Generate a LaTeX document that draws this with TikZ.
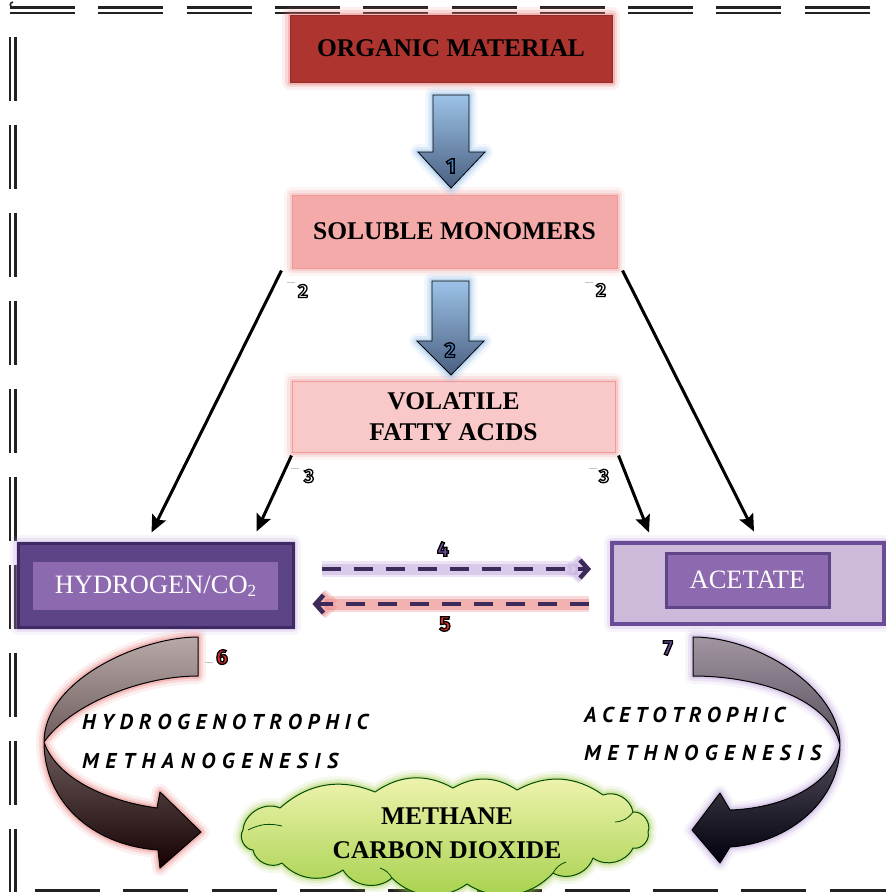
\documentclass[tikz,border=0pt]{standalone}
\usepackage{fontspec}
\setmainfont{Liberation Serif}
\newfontfamily\numfont{Fira Sans}
\newfontfamily\procfont{PT Sans}
\usetikzlibrary{arrows.meta,calc}

\definecolor{orgred}{HTML}{AE3430}
\definecolor{solpink}{HTML}{F4AAA9}
\definecolor{vfapink}{HTML}{F9C8C8}
\definecolor{hdark}{HTML}{5D4486}
\definecolor{hedge}{HTML}{3E2B63}
\definecolor{hlight}{HTML}{8D69AF}
\definecolor{aclight}{HTML}{CDB9DA}
\definecolor{acedge}{HTML}{6A4C97}
\definecolor{dashpurple}{HTML}{3B2A5A}
\definecolor{glowred}{HTML}{E86A6A}
\definecolor{glowpink}{HTML}{F09A9A}
\definecolor{glowblue}{HTML}{7FB2E6}
\definecolor{glowpurple}{HTML}{B89AD8}
\definecolor{glowgreen}{HTML}{9CCB3C}
\definecolor{numblue}{HTML}{4A86C8}
\definecolor{numred}{HTML}{D9302A}
\definecolor{numpurple}{HTML}{7050A0}
\definecolor{bordgray}{HTML}{222222}
\definecolor{arrowtop}{HTML}{9CC2E8}
\definecolor{arrowbot}{HTML}{4A5F80}
\definecolor{cloudtop}{HTML}{F0F4B0}
\definecolor{cloudbot}{HTML}{A4D04A}

% spread the letters of a word evenly over a given width
\makeatletter
\def\sprd@#1#2\@nil{#1\ifx\relax#2\relax\else\hfill\sprd@#2\@nil\fi}
\newcommand\spreadword[2]{\makebox[#1][s]{\sprd@#2\@nil}}
\makeatother

% filled glyphs with a black outline (text render mode 2)
\newcommand\outlined[2]{{\color{#1}\special{pdf:literal direct 0 G 1.3 w 2 Tr}#2\special{pdf:literal direct 0 Tr}}}

\begin{document}
\begin{tikzpicture}[x=1pt,y=-1pt,
  glow/.style={
    preaction={draw=#1,line width=16pt,opacity=0.10,line join=round},
    preaction={draw=#1,line width=10pt,opacity=0.18,line join=round},
    preaction={draw=#1,line width=5pt,opacity=0.30,line join=round}},
  dashglow/.style={
    preaction={draw=#1,line width=16pt,opacity=0.25},
    preaction={draw=#1,line width=11pt,opacity=0.35}},
  box/.style={rectangle,inner sep=0pt,align=center,text=black,
    font=\bfseries\fontsize{25.5}{31}\selectfont},
  ibox/.style={rectangle,inner sep=0pt,align=center,text=white,
    font=\fontsize{26.5}{30}\selectfont},
  bord/.style={draw=bordgray,line width=2.2pt},
  blkarrow/.style={draw=black,line width=3pt,
    -{Stealth[length=17pt,width=15pt,inset=3pt]}},
  dasharrow/.style={line width=4.5pt,dash pattern=on 19pt off 13pt,
    -{Straight Barb[length=8pt,width=18pt]}},
  bluearrow/.style={draw=black,line width=0.8pt,line join=miter,
    top color=arrowtop,bottom color=arrowbot,glow=glowblue},
  numlbl/.style={inner sep=0pt,font=\numfont\bfseries\fontsize{21}{21}\selectfont},
  smallnum/.style={inner sep=0pt,font=\numfont\bfseries\fontsize{19}{19}\selectfont},
  proc/.style={inner sep=0pt,anchor=base west,
    font=\procfont\bfseries\itshape\fontsize{21.5}{21.5}\selectfont},
  tick/.style={draw=gray!45,line width=0.8pt},
  puff/.style={bend left=#1},
  puff/.default=40
]
\useasboundingbox (0,0) rectangle (886,892);
\fill[white] (0,0) rectangle (886,892);

% ---- dashed double frame ----
\foreach \i in {0,...,9} {
  \draw[bord] ({10+88.3*\i},7.5) -- ++(65,0);
  \draw[bord] ({10+88.3*\i},13) -- ++(65,0);
  \draw[bord] (10,{37+88*\i}) -- ++(0,64);
  \draw[bord] (15.5,{37+88*\i}) -- ++(0,64);
  \draw[bord] ({35+88.3*\i},890.5) -- ++(65,0);
}
\draw[draw=bordgray,line width=1.6pt] (13,7.5) arc[start angle=90,end angle=270,radius=2.7];

% ---- stage boxes ----
\node[box,fill=orgred,draw=orgred!85!black,line width=1pt,glow=glowred,
  minimum width=322pt,minimum height=67pt] (om) at (451,48.5) {ORGANIC MATERIAL};
\node[box,fill=solpink,draw=glowpink,line width=1pt,glow=glowpink,
  minimum width=325pt,minimum height=73pt] (sm) at (454.5,231.5) {SOLUBLE MONOMERS};
\node[box,fill=vfapink,draw=glowpink,line width=1pt,glow=glowpink,
  minimum width=323pt,minimum height=71pt] (vfa) at (453.5,416.5) {VOLATILE\\FATTY ACIDS};

% ---- hydrogen / CO2 ----
\node[rectangle,fill=hdark,draw=hedge,line width=3pt,glow=glowpurple,
  minimum width=275pt,minimum height=84pt] (h2) at (155.5,585) {};
\node[ibox,fill=hlight,minimum width=245pt,minimum height=48pt] (h2in) at (155.5,586)
  {HYDROGEN/CO\raisebox{-0.25ex}{\fontsize{17}{17}\selectfont 2}};

% ---- acetate ----
\node[rectangle,fill=aclight,draw=acedge,line width=4pt,glow=glowpurple,
  minimum width=272pt,minimum height=81pt] (ac) at (748,583) {};
\node[ibox,fill=hlight,draw=acedge!90!black,line width=3pt,
  minimum width=163pt,minimum height=54pt] (acin) at (747.5,580) {ACETATE};

% ---- products cloud ----
\draw[draw=black!70!green,line width=1pt,line join=round,
  top color=cloudtop,bottom color=cloudbot,glow=glowgreen]
  (243,830) to[puff=55] (280,808) to[puff=32] (375,792) to[puff=32] (453,788)
  to[puff=32] (517,790) to[puff=32] (603,795) to[puff=50] (633,812)
  to[puff=60] (648,832) to[puff=60] (633,848) to[puff=50] (593,858)
  to[puff=50] (553,873) to[puff] (467,884) to[puff] (392,878)
  to[puff=50] (343,870) to[puff] (282,863) to[puff=55] (253,850)
  to[puff=60] cycle;
% inner creases of the cloud
\draw[draw=black!70!green,line width=0.8pt]
  (248,830) to[bend left=20] (282,826)
  (633,812) to[bend left=25] (615,822)
  (553,873) to[bend left=20] (566,862)
  (392,878) to[bend right=20] (380,868);
\node[align=center,inner sep=0pt,font=\bfseries\fontsize{25.5}{34}\selectfont]
  (cl) at (447,833) {METHANE\\CARBON DIOXIDE};

% ---- block arrows 1 and 2 ----
\draw[bluearrow] (433,95) -- (469,95) -- (469,152) -- (485,152) -- (451,188)
  -- (418,152) -- (433,152) -- cycle;
\draw[bluearrow] (432,281) -- (469,281) -- (469,341) -- (484,341) -- (451,375)
  -- (417,341) -- (432,341) -- cycle;
\node[numlbl] (n1) at (451,166) {\outlined{numblue}{1}};
\node[numlbl] (n2) at (450,350) {\outlined{numblue}{2}};

% ---- black arrows ----
\draw[blkarrow] ($(sm.south west)+(-10,2)$) -- ($(h2.north west)+(135,-9)$);
\draw[blkarrow] ($(vfa.south west)+(0,3)$) -- ($(h2.north west)+(240,-10)$);
\draw[blkarrow] ($(sm.south east)+(5,2)$) -- ($(ac.north west)+(144,-9)$);
\draw[blkarrow] ($(vfa.south east)+(3,3)$) -- ($(ac.north west)+(39,-8)$);

\draw[tick] (287,282) -- (295,282);
\draw[tick] (585,282) -- (593,282);
\draw[tick] (291,468) -- (299,468);
\draw[tick] (589,468) -- (597,468);
\node[smallnum] (a2l) at (303,291) {\outlined{white}{2}};
\node[smallnum] (a2r) at (601,290) {\outlined{white}{2}};
\node[smallnum] (a3l) at (309,476) {\outlined{white}{3}};
\node[smallnum] (a3r) at (604,476) {\outlined{white}{3}};

% ---- exchange arrows 4 and 5 ----
\draw[dasharrow,draw=dashpurple,dashglow=glowpurple]
  ($(h2.east)+(27,-16)$) -- ($(ac.west)+(-19,-14)$);
\draw[dasharrow,draw=dashpurple,dashglow=glowred]
  ($(ac.west)+(-21,21)$) -- ($(h2.east)+(18,19)$);
\node[numlbl] (n4) at (443,549) {\outlined{numpurple}{4}};
\node[numlbl] (n5) at (445,624) {\outlined{numred}{5}};

% ---- curved arrow: hydrogenotrophic route ----
\draw[draw=black,line width=1pt,line join=round,
  top color=black!30!red!12!white!75!black,bottom color=black!92!red,glow=glowred]
  (198,637) .. controls (140,637) and (44,680) .. (44,742)
  .. controls (44,800) and (90,845) .. (158,850)
  -- (160,868) -- (201,832) -- (160,792) -- (157,808)
  .. controls (100,800) and (55,775) .. (44,742)
  .. controls (70,705) and (140,676) .. (198,676) -- cycle;
\draw[tick] (205,662) -- (213,662);
\node[numlbl] (n6) at (222,657) {\outlined{numred}{6}};

% ---- curved arrow: acetotrophic route ----
\draw[draw=black,line width=1pt,line join=round,
  top color=black!35!white!90!violet,bottom color=black!95!blue,glow=glowpurple]
  (693,637) .. controls (760,637) and (840,690) .. (840,745)
  .. controls (840,800) and (790,843) .. (730,847)
  -- (720,863) -- (692,830) -- (720,793) -- (730,810)
  .. controls (790,808) and (835,780) .. (840,745)
  .. controls (830,700) and (760,676) .. (693,676) -- cycle;
\node[numlbl] (n7) at (668,648) {\outlined{numpurple}{7}};

% ---- route names ----
\node[proc] (t1) at (82,729) {\spreadword{286pt}{HYDROGENOTROPHIC}};
\node[proc] (t2) at (82,768) {\spreadword{256pt}{METHANOGENESIS}};
\node[proc] (t3) at (584,722) {\spreadword{201pt}{ACETOTROPHIC}};
\node[proc] (t4) at (584,760) {\spreadword{237pt}{METHNOGENESIS}};
\end{tikzpicture}
\end{document}
